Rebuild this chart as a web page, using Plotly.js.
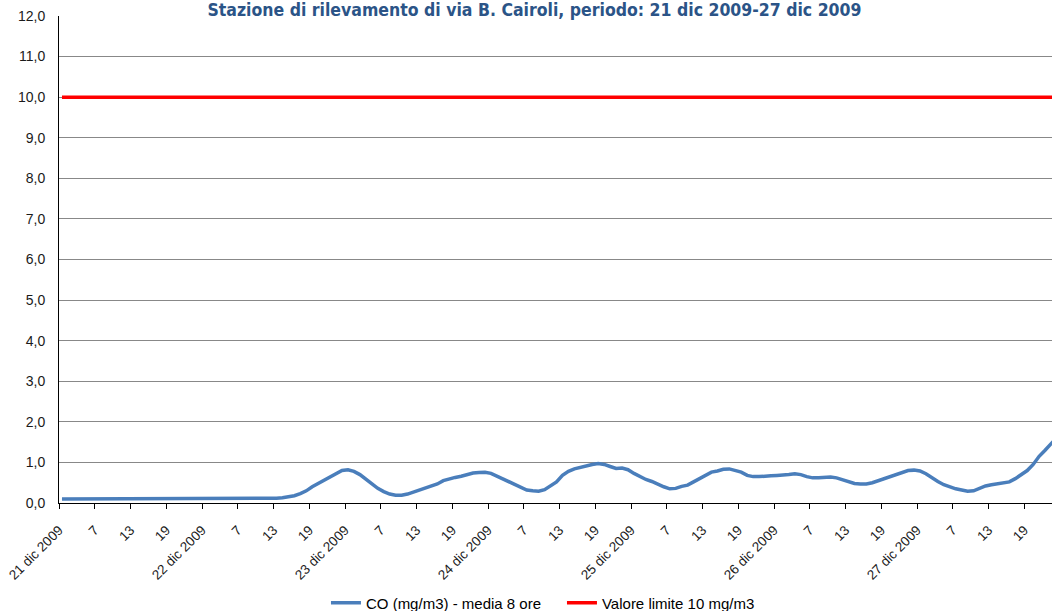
<!DOCTYPE html>
<html>
<head>
<meta charset="utf-8">
<script src="https://cdn.plot.ly/plotly-3.0.1.min.js"></script>
<style>
html,body{margin:0;padding:0;overflow:hidden;background:#fff;}
#chart{width:1060px;height:611px;}
</style>
</head>
<body>
<div id="chart"></div>
<script>
// Hourly CO 8-hour moving average (mg/m3), 21 dic 2009 h1 .. 27 dic 2009 h24
const coValues = [
0.10,0.10,0.10,0.10,0.10,0.10,0.10,0.10,0.10,0.10,0.10,0.10,0.10,0.10,0.10,0.10,0.10,0.10,0.10,0.10,0.10,0.10,0.10,0.10,
0.10,0.10,0.10,0.10,0.10,0.10,0.10,0.10,0.10,0.10,0.11,0.11,0.12,0.13,0.15,0.18,0.23,0.30,0.40,0.48,0.57,0.64,0.72,0.80,
0.82,0.78,0.70,0.58,0.48,0.36,0.28,0.22,0.19,0.19,0.22,0.27,0.33,0.36,0.42,0.47,0.55,0.60,0.63,0.66,0.70,0.74,0.75,0.76,
0.73,0.66,0.58,0.52,0.45,0.37,0.32,0.30,0.29,0.33,0.42,0.52,0.68,0.78,0.84,0.88,0.92,0.95,0.97,0.95,0.90,0.85,0.86,0.82,
0.73,0.65,0.58,0.53,0.46,0.40,0.35,0.36,0.41,0.44,0.52,0.60,0.70,0.76,0.79,0.83,0.84,0.81,0.76,0.68,0.65,0.65,0.65,0.67,
0.68,0.68,0.70,0.72,0.70,0.65,0.62,0.62,0.63,0.64,0.62,0.57,0.52,0.48,0.47,0.47,0.50,0.55,0.60,0.65,0.70,0.75,0.80,0.81,
0.79,0.72,0.62,0.53,0.45,0.39,0.35,0.32,0.29,0.30,0.37,0.42,0.45,0.48,0.50,0.52,0.60,0.70,0.80,0.95,1.15,1.30,1.47,1.62
];
const limitValue = [10, 10];
const dayLabels = ["21 dic 2009","22 dic 2009","23 dic 2009","24 dic 2009","25 dic 2009","26 dic 2009","27 dic 2009"];
const hourLabels = ["7","13","19"];
const yTicks = [0,1,2,3,4,5,6,7,8,9,10,11,12];

const xIdx = coValues.map((v,i)=>i);
const tickText = [];
const tickVals = [];
dayLabels.forEach((d,k)=>{
  tickText.push(d); tickVals.push(k*24-0.5);
  hourLabels.forEach((h,j)=>{ tickText.push(h); tickVals.push(k*24+(j+1)*6-0.5); });
});

const traces = [
  {x: xIdx, y: coValues, type:'scatter', mode:'lines', name:'CO (mg/m3) - media 8 ore',
   line:{color:'#4A7EBB', width:3.5}},
  {x: [xIdx[0], xIdx[xIdx.length-1]+0.5], y: limitValue, type:'scatter', mode:'lines', name:'Valore limite 10 mg/m3',
   line:{color:'#FF0000', width:3.5}}
];

const layout = {
  width:1060, height:611,
  margin:{l:59, r:0, t:16, b:108},
  paper_bgcolor:'#fff', plot_bgcolor:'#fff',
  separators:',.',
  font:{family:'"Liberation Sans", Arial, sans-serif', size:13, color:'#1a1a1a'},
  title:{text:'Stazione di rilevamento di via B. Cairoli, periodo: 21 dic 2009-27 dic 2009',
    font:{family:'"DejaVu Sans Condensed", "DejaVu Sans", sans-serif', size:17.5, color:'#2B5487', weight:'bold'},
    x:0.475, xanchor:'center', xref:'paper', y:1-10/611, yanchor:'middle', yref:'container'},
  xaxis:{range:[-0.5,167.5], tickmode:'array', tickvals:tickVals, ticktext:tickText,
    tickangle:-45, ticks:'outside', ticklen:5, tickcolor:'#000', showgrid:false,
    showline:true, linecolor:'#000', linewidth:1, zeroline:false, ticklabelstandoff:8,
    automargin:false, tickfont:{size:13.5, color:'#1a1a1a'}},
  yaxis:{range:[0,12], tickmode:'array', tickvals:yTicks, tickformat:'.1f',
    showgrid:true, gridcolor:'#888', gridwidth:1, showline:true, linecolor:'#000', linewidth:1,
    zeroline:false, ticks:'', ticklabelstandoff:10, automargin:false, tickfont:{size:14, color:'#1a1a1a'}},
  showlegend:true,
  legend:{orientation:'h', x:0.2667, xanchor:'left', xref:'paper', y:8/611, yanchor:'middle', yref:'container',
    entrywidth:191, entrywidthmode:'pixels',
    font:{size:15, color:'#000'}, bgcolor:'rgba(0,0,0,0)'}
};
Plotly.newPlot('chart', traces, layout, {displayModeBar:false, staticPlot:true});
</script>
</body>
</html>
